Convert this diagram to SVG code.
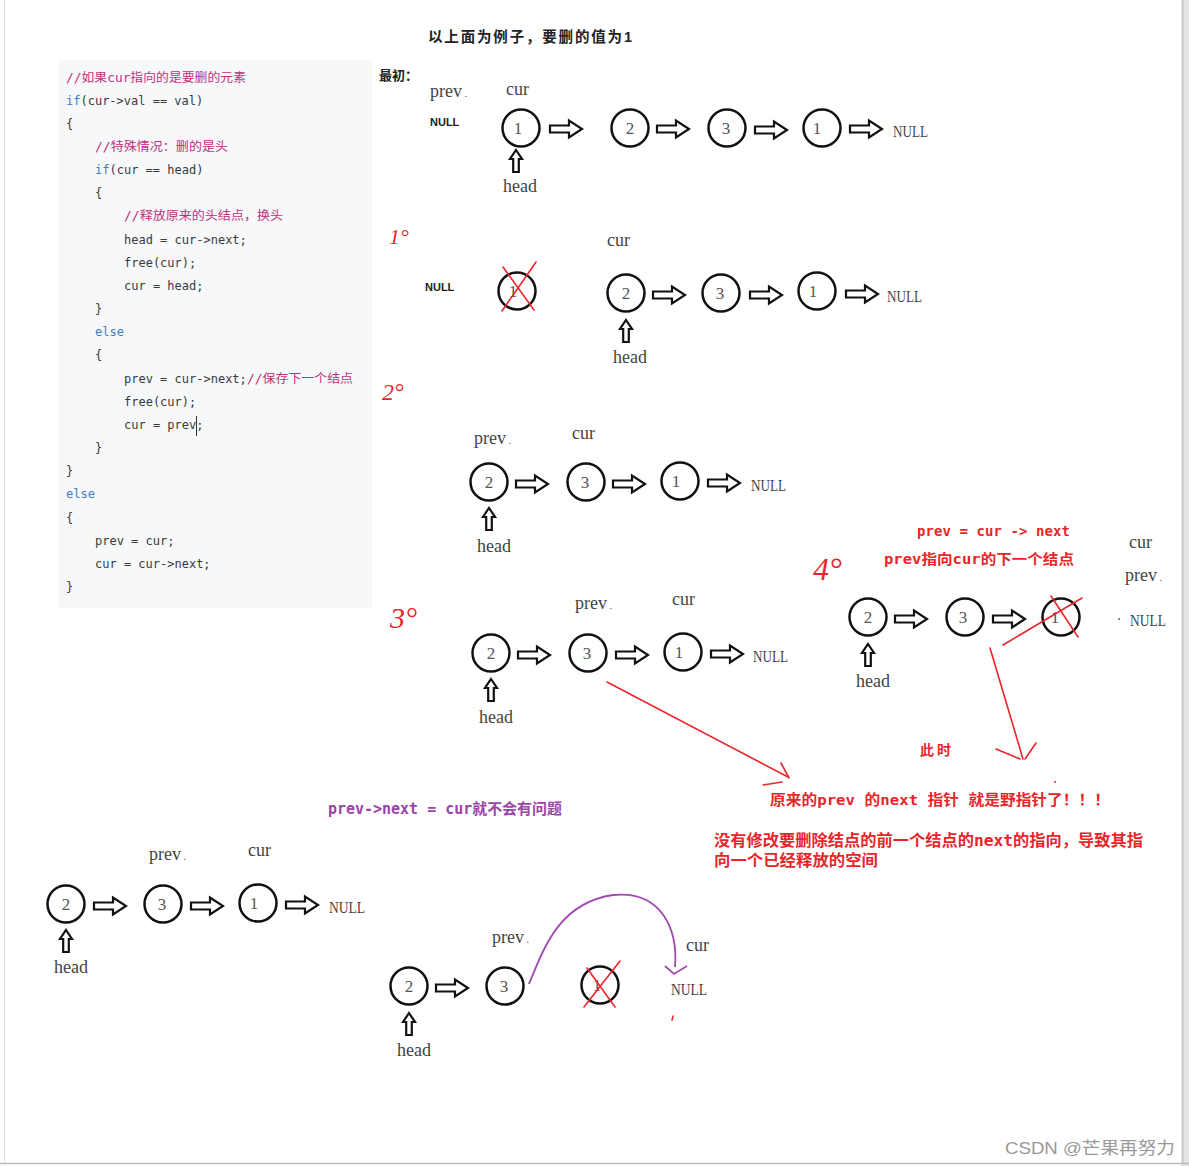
<svg xmlns="http://www.w3.org/2000/svg" width="1189" height="1166" viewBox="0 0 1189 1166">
<style>
.code{font-family:"DejaVu Sans Mono","Noto Sans CJK SC",monospace;font-size:12px;fill:#3a3a3a}
.kw{fill:#3f7cc6}
.cm{fill:#c2307a}
.lbl{font-family:"Liberation Serif","Noto Sans CJK SC",serif;font-size:18px;fill:#444}
.nul{font-family:"Liberation Serif",serif;font-size:17px;fill:#444}
.snul{font-family:"Liberation Sans",sans-serif;font-size:11px;font-weight:bold;fill:#222}
.num{font-family:"Liberation Serif",serif;font-size:17px;fill:#555;text-anchor:middle}
.nd{fill:#fff;stroke:#111;stroke-width:2.5}
.ha{fill:#fff;stroke:#111;stroke-width:2.2;stroke-linejoin:miter}
.red{stroke:#e8262a;stroke-width:1.6;fill:none;stroke-linecap:round}
.rt{font-family:"DejaVu Sans Mono","Noto Sans CJK SC",monospace;font-weight:bold;fill:#e8262a}
.step{font-family:"Liberation Serif",serif;font-style:italic;fill:#e8262a}
.bt{font-family:"Liberation Sans","Noto Sans CJK SC",sans-serif;font-weight:bold;fill:#222}
</style>
<defs>
<path id="ra" class="ha" d="M0,-3.5 H19 V-8.5 L32,0 L19,8.5 V3.5 H0 Z"/>
<path id="ua" class="ha" d="M0,0 L6,9 H2.8 V22 H-2.8 V9 H-6 Z"/>
</defs>
<rect width="1189" height="1166" fill="#fff"/>
<line x1="4.5" y1="0" x2="4.5" y2="1163" stroke="#ddd" stroke-width="1"/>
<rect x="1181" y="0" width="8" height="1166" fill="#e4e4e4"/>
<line x1="1183" y1="0" x2="1183" y2="1163" stroke="#bbb" stroke-width="1"/>
<line x1="0" y1="1163.5" x2="1189" y2="1163.5" stroke="#bbb" stroke-width="1.5"/>

<g id="code">
<rect x="58" y="60" width="314" height="548" fill="#f6f8fa"/>
<text class="code cm" x="66" y="82" textLength="180" lengthAdjust="spacingAndGlyphs">//如果cur指向的是要删的元素</text>
<text class="code" x="66" y="105"><tspan class="kw">if</tspan>(cur-&gt;val == val)</text>
<text class="code" x="66" y="128">{</text>
<text class="code cm" x="95" y="151" textLength="133" lengthAdjust="spacingAndGlyphs">//特殊情况：删的是头</text>
<text class="code" x="95" y="174"><tspan class="kw">if</tspan>(cur == head)</text>
<text class="code" x="95" y="197">{</text>
<text class="code cm" x="124" y="220" textLength="159" lengthAdjust="spacingAndGlyphs">//释放原来的头结点，换头</text>
<text class="code" x="124" y="244">head = cur-&gt;next;</text>
<text class="code" x="124" y="267">free(cur);</text>
<text class="code" x="124" y="290">cur = head;</text>
<text class="code" x="95" y="313">}</text>
<text class="code kw" x="95" y="336">else</text>
<text class="code" x="95" y="359">{</text>
<text class="code" x="124" y="383">prev = cur-&gt;next;</text>
<text class="code cm" x="247" y="383" textLength="106" lengthAdjust="spacingAndGlyphs">//保存下一个结点</text>
<text class="code" x="124" y="406">free(cur);</text>
<text class="code" x="124" y="429">cur = prev;</text>
<line x1="196.5" y1="416" x2="196.5" y2="436" stroke="#333" stroke-width="1"/>
<text class="code" x="95" y="452">}</text>
<text class="code" x="66" y="475">}</text>
<text class="code kw" x="66" y="498">else</text>
<text class="code" x="66" y="522">{</text>
<text class="code" x="95" y="545">prev = cur;</text>
<text class="code" x="95" y="568">cur = cur-&gt;next;</text>
<text class="code" x="66" y="591">}</text>
</g>

<g id="titles">
<text class="bt" x="428" y="42" font-size="14.5" textLength="204">以上面为例子，要删的值为1</text>
<text class="bt" x="379" y="80" font-size="13">最初：</text>
<text class="step" x="389" y="244" font-size="22">1°</text>
<text class="step" x="382" y="400" font-size="24">2°</text>
<text class="step" x="390" y="628" font-size="30">3°</text>
<text class="step" x="813" y="580" font-size="32">4°</text>
</g>

<g id="row-initial">
<text class="lbl" x="430" y="97">prev<tspan font-size="10"> .</tspan></text>
<text class="lbl" x="506" y="95">cur</text>
<text class="snul" x="430" y="126">NULL</text>
<g id="a1"><circle class="nd" cx="521" cy="128" r="18.5"/><text class="num" x="518" y="134">1</text></g>
<g id="a2"><circle class="nd" cx="630" cy="128" r="18.5"/><text class="num" x="630" y="134">2</text></g>
<g id="a3"><circle class="nd" cx="727" cy="128" r="18.5"/><text class="num" x="726" y="134">3</text></g>
<g id="a4"><circle class="nd" cx="822" cy="128" r="18.5"/><text class="num" x="817" y="134">1</text></g>
<text class="nul" x="893" y="137" textLength="35" lengthAdjust="spacingAndGlyphs">NULL</text>
<text class="lbl" x="503" y="192">head</text>
</g>

<g id="row-1">
<text class="snul" x="425" y="291">NULL</text>
<g id="b1"><circle class="nd" cx="517" cy="291" r="18.5"/><text class="num" x="513" y="297">1</text>
<line class="red" x1="502" y1="311" x2="536" y2="262"/><line class="red" x1="503" y1="267" x2="534" y2="310"/></g>
<text class="lbl" x="607" y="246">cur</text>
<g id="b2"><circle class="nd" cx="626" cy="293" r="18.5"/><text class="num" x="626" y="299">2</text></g>
<g id="b3"><circle class="nd" cx="721" cy="293" r="18.5"/><text class="num" x="720" y="299">3</text></g>
<g id="b4"><circle class="nd" cx="817" cy="291" r="18.5"/><text class="num" x="813" y="297">1</text></g>
<text class="nul" x="887" y="302" textLength="35" lengthAdjust="spacingAndGlyphs">NULL</text>
<text class="lbl" x="613" y="363">head</text>
</g>

<g id="row-2">
<text class="lbl" x="474" y="444">prev<tspan font-size="10"> .</tspan></text>
<text class="lbl" x="572" y="439">cur</text>
<g id="c1"><circle class="nd" cx="489" cy="482" r="18.5"/><text class="num" x="489" y="488">2</text></g>
<g id="c2"><circle class="nd" cx="586" cy="482" r="18.5"/><text class="num" x="585" y="488">3</text></g>
<g id="c3"><circle class="nd" cx="680" cy="481" r="18.5"/><text class="num" x="676" y="487">1</text></g>
<text class="nul" x="751" y="491" textLength="35" lengthAdjust="spacingAndGlyphs">NULL</text>
<text class="lbl" x="477" y="552">head</text>
</g>

<g id="row-3">
<text class="lbl" x="575" y="609">prev<tspan font-size="10"> .</tspan></text>
<text class="lbl" x="672" y="605">cur</text>
<g id="d1"><circle class="nd" cx="491" cy="653" r="18.5"/><text class="num" x="491" y="659">2</text></g>
<g id="d2"><circle class="nd" cx="588" cy="653" r="18.5"/><text class="num" x="587" y="659">3</text></g>
<g id="d3"><circle class="nd" cx="683" cy="652" r="18.5"/><text class="num" x="679" y="658">1</text></g>
<text class="nul" x="753" y="662" textLength="35" lengthAdjust="spacingAndGlyphs">NULL</text>
<text class="lbl" x="479" y="723">head</text>
</g>

<g id="row-4">
<text class="rt" x="917" y="536" font-size="14" textLength="153">prev = cur -&gt; next</text>
<text class="rt" x="884" y="564" font-size="14" textLength="190" lengthAdjust="spacingAndGlyphs">prev指向cur的下一个结点</text>
<text class="lbl" x="1129" y="548">cur</text>
<text class="lbl" x="1125" y="581">prev<tspan font-size="10"> .</tspan></text>
<circle cx="1119" cy="619" r="1" fill="#666"/>
<text class="nul" x="1130" y="626" textLength="36" lengthAdjust="spacingAndGlyphs">NULL</text>
<g id="e1"><circle class="nd" cx="868" cy="617" r="18.5"/><text class="num" x="868" y="623">2</text></g>
<g id="e2"><circle class="nd" cx="965" cy="617" r="18.5"/><text class="num" x="963" y="623">3</text></g>
<g id="e3"><circle class="nd" cx="1061" cy="617" r="18.5"/><text class="num" x="1055" y="623">1</text>
<line class="red" x1="1051" y1="596" x2="1078" y2="637"/></g>
<text class="lbl" x="856" y="687">head</text>
<text class="bt" x="920" y="755" font-size="14" style="fill:#e8262a" textLength="31">此时</text>
<circle cx="1055" cy="782" r="1" fill="#e8262a"/>
<text class="rt" x="770" y="805" font-size="14.5" textLength="340" lengthAdjust="spacingAndGlyphs">原来的prev 的next 指针  就是野指针了！！！</text>
<text class="rt" x="714" y="846" font-size="15.5" textLength="429" lengthAdjust="spacingAndGlyphs">没有修改要删除结点的前一个结点的next的指向，导致其指</text>
<text class="rt" x="714" y="866" font-size="15.5" textLength="164" lengthAdjust="spacingAndGlyphs">向一个已经释放的空间</text>
</g>

<g id="row-ok">
<text class="rt" x="328" y="814" font-size="15" style="fill:#9a45a8" textLength="234" lengthAdjust="spacingAndGlyphs">prev-&gt;next = cur就不会有问题</text>
<text class="lbl" x="149" y="860">prev<tspan font-size="10"> .</tspan></text>
<text class="lbl" x="248" y="856">cur</text>
<g id="f1"><circle class="nd" cx="66" cy="904" r="18.5"/><text class="num" x="66" y="910">2</text></g>
<g id="f2"><circle class="nd" cx="163" cy="904" r="18.5"/><text class="num" x="162" y="910">3</text></g>
<g id="f3"><circle class="nd" cx="258" cy="903" r="18.5"/><text class="num" x="254" y="909">1</text></g>
<text class="nul" x="329" y="913" textLength="36" lengthAdjust="spacingAndGlyphs">NULL</text>
<text class="lbl" x="54" y="973">head</text>
</g>

<g id="row-final">
<text class="lbl" x="492" y="943">prev<tspan font-size="10"> .</tspan></text>
<text class="lbl" x="686" y="951">cur</text>
<g id="g1"><circle class="nd" cx="409" cy="986" r="18.5"/><text class="num" x="409" y="992">2</text></g>
<g id="g2"><circle class="nd" cx="505" cy="986" r="18.5"/><text class="num" x="504" y="992">3</text></g>
<g id="g3"><circle class="nd" cx="600" cy="985" r="18.5"/><text class="num" x="597" y="991">1</text>
<line class="red" x1="584" y1="1007" x2="620" y2="961"/><line class="red" x1="587" y1="968" x2="615" y2="1007"/></g>
<text class="nul" x="671" y="995" textLength="36" lengthAdjust="spacingAndGlyphs">NULL</text>
<line class="red" x1="673" y1="1016" x2="672" y2="1020"/>
<text class="lbl" x="397" y="1056">head</text>
</g>

<g id="connectors">
<use href="#ra" x="550" y="129"/><use href="#ra" x="657" y="129"/><use href="#ra" x="755" y="130"/><use href="#ra" x="850" y="129"/>
<use href="#ua" x="516" y="150"/>
<use href="#ra" x="653" y="295"/><use href="#ra" x="750" y="295"/><use href="#ra" x="846" y="294"/>
<use href="#ua" x="626" y="320"/>
<use href="#ra" x="516" y="484"/><use href="#ra" x="613" y="484"/><use href="#ra" x="708" y="483"/>
<use href="#ua" x="489" y="508"/>
<use href="#ra" x="518" y="655"/><use href="#ra" x="616" y="655"/><use href="#ra" x="711" y="654"/>
<use href="#ua" x="491" y="679"/>
<use href="#ra" x="895" y="619"/><use href="#ra" x="993" y="619"/>
<use href="#ua" x="868" y="644"/>
<use href="#ra" x="94" y="906"/><use href="#ra" x="191" y="906"/><use href="#ra" x="286" y="905"/>
<use href="#ua" x="66" y="930"/>
<use href="#ra" x="436" y="988"/>
<use href="#ua" x="409" y="1013"/>
<line class="red" x1="1003" y1="645" x2="1082" y2="598"/>
<line class="red" x1="607" y1="682" x2="788" y2="777"/>
<line class="red" x1="781" y1="763" x2="789" y2="778"/>
<line class="red" x1="763" y1="785" x2="782" y2="782"/>
<line class="red" x1="990" y1="648" x2="1023" y2="759"/>
<line class="red" x1="996" y1="749" x2="1020" y2="759"/>
<line class="red" x1="1036" y1="743" x2="1025" y2="759"/>
<path d="M529,984 C545,945 560,903 613,895 C662,890 678,930 675,967" fill="none" stroke="#a04ab0" stroke-width="1.8"/>
<polyline points="665,966 674,974 687,966" fill="none" stroke="#a04ab0" stroke-width="1.8"/>
</g>

<text x="1005" y="1154" font-family="Liberation Sans,Noto Sans CJK SC,sans-serif" font-size="17" fill="#999" textLength="170" lengthAdjust="spacingAndGlyphs">CSDN @芒果再努力</text>
</svg>
